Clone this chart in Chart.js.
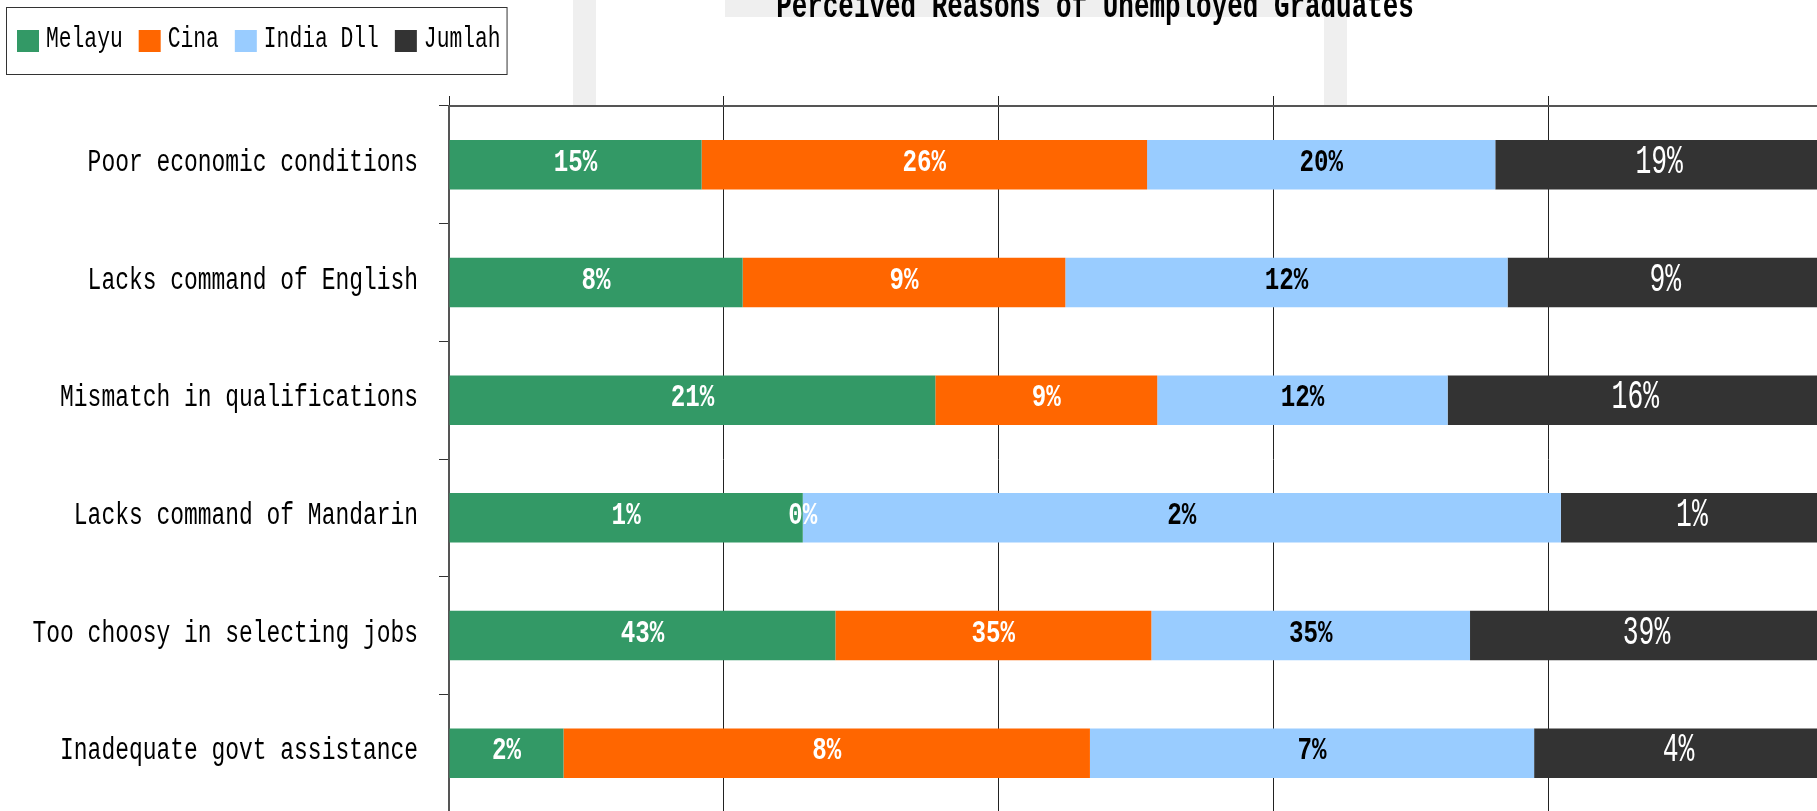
<!DOCTYPE html>
<html lang="en">
<head>
<meta charset="UTF-8">
<title>Perceived Reasons of Unemployed Graduates</title>
<script src="https://cdn.jsdelivr.net/npm/chart.js@4.4.0/dist/chart.umd.min.js"></script>
<style>
  html, body { margin: 0; padding: 0; background: #fff; overflow: hidden; }
  #wrap { position: relative; width: 1823px; height: 812px; }
</style>
</head>
<body>
<div id="wrap"><canvas id="chart" width="1823" height="812"></canvas></div>
<script>
// raw percentages per group (labels show them rounded), bars are 100% stacked
const reasons = [
  'Poor economic conditions',
  'Lacks command of English',
  'Mismatch in qualifications',
  'Lacks command of Mandarin',
  'Too choosy in selecting jobs',
  'Inadequate govt assistance'
];
const melayu   = [14.8, 8.1, 20.6, 1.12, 42.8, 1.74];
const cina     = [26.1, 8.9, 9.4, 0, 35, 8.0];
const indiaDll = [20.4, 12.2, 12.3, 2.4, 35.3, 6.75];
const jumlah   = [19.2, 8.7, 15.9, 0.83, 39.1, 4.39];
const xTicks = [0, 20, 40, 60, 80, 100];

const MONO = '"Liberation Mono", "DejaVu Sans Mono", monospace';

const rowTotals = reasons.map((_, i) => melayu[i] + cina[i] + indiaDll[i] + jumlah[i]);
const share = arr => arr.map((v, i) => v / rowTotals[i] * 100);

function squeezeText(ctx, text, x, y, sx, align) {
  ctx.save();
  ctx.translate(x, y);
  ctx.scale(sx, 1);
  ctx.textAlign = align;
  ctx.fillText(text, 0, 0);
  ctx.restore();
}

const backdrop = {
  id: 'backdrop',
  beforeDraw(chart) {
    const ctx = chart.ctx;
    ctx.save();
    ctx.fillStyle = '#fff';
    ctx.fillRect(0, 0, chart.width, chart.height);
    // faint watermark pieces behind the heading
    ctx.fillStyle = '#efefef';
    ctx.fillRect(573, 0, 23, 105);
    ctx.fillRect(725, 0, 622, 17);
    ctx.fillRect(1324, 0, 23, 105);
    ctx.restore();
  }
};

const yLabels = {
  id: 'yLabels',
  afterDraw(chart) {
    const { ctx, chartArea } = chart;
    const y = chart.scales.y;
    ctx.save();
    ctx.font = '31px ' + MONO;
    ctx.fillStyle = '#000';
    ctx.textBaseline = 'alphabetic';
    chart.data.labels.forEach((lbl, i) => {
      squeezeText(ctx, lbl, chartArea.left - 31, y.getPixelForValue(i) + 6, 0.74, 'right');
    });
    ctx.restore();
  }
};

const barLabels = {
  id: 'barLabels',
  afterDatasetsDraw(chart) {
    const ctx = chart.ctx;
    ctx.save();
    ctx.textBaseline = 'alphabetic';
    chart.data.datasets.forEach((ds, di) => {
      const st = ds.valueLabel;
      ctx.font = st.weight + ' ' + st.size + 'px ' + MONO;
      ctx.fillStyle = st.color;
      chart.getDatasetMeta(di).data.forEach((bar, i) => {
        const cx = (bar.x + bar.base) / 2;
        squeezeText(ctx, Math.round(ds.rawValues[i]) + '%', cx, bar.y + st.dy, st.sx, 'center');
      });
    });
    ctx.restore();
  }
};

const headings = {
  id: 'headings',
  afterDraw(chart) {
    const ctx = chart.ctx;
    ctx.save();
    ctx.fillStyle = '#000';
    ctx.textBaseline = 'alphabetic';
    ctx.font = 'bold 36px ' + MONO;
    squeezeText(ctx, 'Perceived Reasons of Unemployed Graduates', 1095, 17, 0.72, 'center');

    // legend box
    ctx.font = '30px ' + MONO;
    let x = 17;
    chart.data.datasets.forEach(ds => {
      ctx.fillStyle = ds.backgroundColor;
      ctx.fillRect(x, 30, 22, 22);
      x += 29;
      ctx.fillStyle = '#000';
      squeezeText(ctx, ds.label, x, 47, 0.71, 'left');
      x += ctx.measureText(ds.label).width * 0.71 + 16;
    });
    ctx.strokeStyle = '#333';
    ctx.lineWidth = 1;
    ctx.strokeRect(6.5, 7.5, x - 16, 67);
    ctx.restore();
  }
};

new Chart(document.getElementById('chart'), {
  type: 'bar',
  data: {
    labels: reasons,
    datasets: [
      { label: 'Melayu', data: share(melayu), rawValues: melayu, backgroundColor: '#339966',
        valueLabel: { color: '#fff', weight: 'bold', size: 31, sx: 0.78, dy: 6 } },
      { label: 'Cina', data: share(cina), rawValues: cina, backgroundColor: '#FF6600',
        valueLabel: { color: '#fff', weight: 'bold', size: 31, sx: 0.78, dy: 6 } },
      { label: 'India Dll', data: share(indiaDll), rawValues: indiaDll, backgroundColor: '#99CCFF',
        valueLabel: { color: '#000', weight: 'bold', size: 31, sx: 0.78, dy: 6 } },
      { label: 'Jumlah', data: share(jumlah), rawValues: jumlah, backgroundColor: '#333333',
        valueLabel: { color: '#fff', weight: 'normal', size: 40, sx: 0.66, dy: 8 } }
    ]
  },
  options: {
    indexAxis: 'y',
    responsive: false,
    animation: false,
    categoryPercentage: 1.0,
    barPercentage: 0.42,
    layout: { padding: { top: 96, left: 0, right: 0, bottom: 0 } },
    plugins: {
      legend: { display: false },
      title: { display: false },
      tooltip: { enabled: false }
    },
    scales: {
      x: {
        position: 'top',
        stacked: true,
        min: xTicks[0],
        max: xTicks[xTicks.length - 1],
        afterBuildTicks(scale) { scale.ticks = xTicks.map(v => ({ value: v })); },
        ticks: { display: false },
        grid: { color: '#222', lineWidth: 1, drawTicks: true, tickLength: 10 },
        border: { display: true, color: '#555', width: 2 }
      },
      y: {
        stacked: true,
        ticks: { display: false },
        grid: { drawOnChartArea: false, drawTicks: true, tickLength: 10, color: '#333', offset: true },
        border: { display: true, color: '#555', width: 2 },
        afterFit(scale) { scale.width = 449; }
      }
    }
  },
  plugins: [backdrop, yLabels, barLabels, headings]
});
</script>
</body>
</html>
